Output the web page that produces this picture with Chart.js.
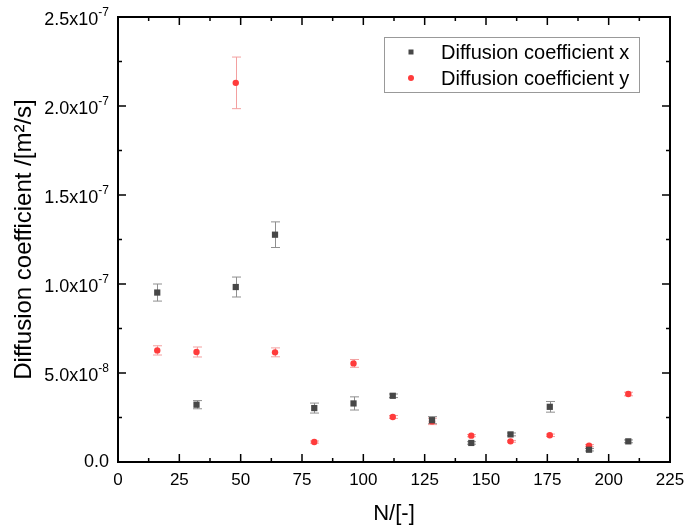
<!DOCTYPE html>
<html>
<head>
<meta charset="utf-8">
<script src="https://cdn.jsdelivr.net/npm/chart.js@4"></script>
<style>
  html, body { margin: 0; padding: 0; background: #fff; }
  #wrap { width: 685px; height: 528px; }
</style>
</head>
<body>
<div id="wrap"><canvas id="chart"></canvas></div>
<script>
// Numero de particulas N
const nValues = [16, 32, 48, 64, 80, 96, 112, 128, 144, 160, 176, 192, 208];

// Coeficiente de difusion en x (m^2/s) y su error
const diffX = [9.52e-8, 3.22e-8, 9.83e-8, 12.77e-8, 3.03e-8, 3.29e-8, 3.72e-8, 2.35e-8, 1.07e-8, 1.55e-8, 3.10e-8, 0.69e-8, 1.16e-8];
const diffXErr = [0.48e-8, 0.23e-8, 0.56e-8, 0.72e-8, 0.28e-8, 0.37e-8, 0.10e-8, 0.20e-8, 0.07e-8, 0.08e-8, 0.30e-8, 0.07e-8, 0.08e-8];

// Coeficiente de difusion en y (m^2/s) y su error
const diffY = [6.27e-8, 6.18e-8, 21.3e-8, 6.16e-8, 1.12e-8, 5.54e-8, 2.53e-8, 2.28e-8, 1.48e-8, 1.16e-8, 1.50e-8, 0.92e-8, 3.82e-8];
const diffYErr = [0.26e-8, 0.28e-8, 1.45e-8, 0.25e-8, 0.06e-8, 0.22e-8, 0.08e-8, 0.18e-8, 0.06e-8, 0.05e-8, 0.07e-8, 0.06e-8, 0.10e-8];

// Etiquetas del eje Y (mantisa + exponente en superindice)
const yTickMantissa = ['0.0', '5.0x10', '1.0x10', '1.5x10', '2.0x10', '2.5x10'];
const yTickExp = ['', '-8', '-7', '-7', '-7', '-7'];

const FONT = 'Arial, "Liberation Sans", sans-serif';

const toPoints = (xs, ys) => xs.map((x, i) => ({ x: x, y: ys[i] }));

// Barras de error
const errorBars = {
  id: 'errorBars',
  beforeDatasetsDraw(chart) {
    const { ctx, scales: { x, y } } = chart;
    chart.data.datasets.forEach((ds) => {
      ctx.save();
      ctx.strokeStyle = ds.errorColor;
      ctx.lineWidth = 1;
      ds.data.forEach((p, i) => {
        const e = ds.errors[i];
        const px = Math.round(x.getPixelForValue(p.x)) + 0.5;
        const top = y.getPixelForValue(p.y + e);
        const bot = y.getPixelForValue(p.y - e);
        ctx.beginPath();
        ctx.moveTo(px, top); ctx.lineTo(px, bot);
        ctx.moveTo(px - 4.5, top); ctx.lineTo(px + 4.5, top);
        ctx.moveTo(px - 4.5, bot); ctx.lineTo(px + 4.5, bot);
        ctx.stroke();
      });
      ctx.restore();
    });
  }
};

// Marco con ticks hacia adentro, etiquetas Y y leyenda
const frame = {
  id: 'frame',
  afterDraw(chart) {
    const { ctx, chartArea: a, scales: { x, y } } = chart;
    ctx.save();
    ctx.strokeStyle = '#000';
    ctx.lineWidth = 2;
    ctx.strokeRect(a.left, a.top, a.right - a.left, a.bottom - a.top);

    ctx.lineWidth = 1.5;
    ctx.beginPath();
    for (let v = 0; v <= 225; v += 12.5) {
      const px = x.getPixelForValue(v);
      const len = (v % 25 === 0) ? 8 : 4;
      ctx.moveTo(px, a.bottom); ctx.lineTo(px, a.bottom - len);
      ctx.moveTo(px, a.top); ctx.lineTo(px, a.top + len);
    }
    for (let k = 0; k <= 10; k++) {
      const py = y.getPixelForValue(k * 0.25e-7);
      const len = (k % 2 === 0) ? 8 : 4;
      ctx.moveTo(a.left, py); ctx.lineTo(a.left + len, py);
      ctx.moveTo(a.right, py); ctx.lineTo(a.right - len, py);
    }
    ctx.stroke();

    // etiquetas Y con superindice
    ctx.fillStyle = '#000';
    ctx.textBaseline = 'middle';
    ctx.textAlign = 'left';
    yTickMantissa.forEach((m, i) => {
      const py = y.getPixelForValue(i * 0.5e-7);
      const ex = yTickExp[i];
      ctx.font = '18px ' + FONT;
      const wm = ctx.measureText(m).width;
      ctx.font = '12px ' + FONT;
      const we = ex ? ctx.measureText(ex).width : 0;
      const startX = a.left - 9 - wm - we;
      const off = ex ? 3 : 0;
      ctx.font = '18px ' + FONT;
      ctx.fillText(m, startX, py + off);
      if (ex) {
        ctx.font = '12px ' + FONT;
        ctx.fillText(ex, startX + wm, py - 4.5);
      }
    });

    // leyenda
    const lx = a.right - 286, ly = a.top + 20, lw = 255, lh = 55;
    ctx.lineWidth = 1;
    ctx.strokeStyle = '#999';
    ctx.strokeRect(lx + 0.5, ly + 0.5, lw, lh);
    ctx.font = '20px ' + FONT;
    chart.data.datasets.forEach((ds, i) => {
      const cy = ly + 15 + i * 26;
      const mx = lx + 27;
      ctx.fillStyle = ds.backgroundColor;
      if (ds.pointStyle === 'rect') {
        ctx.fillRect(mx - 2.5, cy - 2.5, 5, 5);
      } else {
        ctx.beginPath();
        ctx.arc(mx, cy, 3, 0, Math.PI * 2);
        ctx.fill();
      }
      ctx.fillStyle = '#000';
      ctx.fillText(ds.label, lx + 57, cy + 1);
    });
    ctx.restore();
  }
};

new Chart(document.getElementById('chart'), {
  type: 'scatter',
  data: {
    datasets: [
      {
        label: 'Diffusion coefficient x',
        data: toPoints(nValues, diffX),
        errors: diffXErr,
        errorColor: '#8f8f8f',
        pointStyle: 'rect',
        pointRadius: 4.4,
        backgroundColor: '#474747',
        borderWidth: 0
      },
      {
        label: 'Diffusion coefficient y',
        data: toPoints(nValues, diffY),
        errors: diffYErr,
        errorColor: '#f3a0a0',
        pointStyle: 'circle',
        pointRadius: 3.2,
        backgroundColor: '#ff3b3b',
        borderWidth: 0
      }
    ]
  },
  options: {
    responsive: true,
    maintainAspectRatio: false,
    animation: false,
    layout: { padding: { top: 17, right: 15, left: 0, bottom: 0 } },
    plugins: {
      legend: { display: false },
      tooltip: { enabled: false }
    },
    scales: {
      x: {
        type: 'linear',
        min: 0,
        max: 225,
        grid: { display: false },
        border: { display: false },
        ticks: {
          stepSize: 25,
          padding: 0,
          color: '#000',
          font: { family: FONT, size: 17 }
        },
        title: {
          display: true,
          text: 'N/[-]',
          color: '#000',
          font: { family: FONT, size: 22 },
          padding: { top: 0, bottom: 1 }
        },
        afterFit(scale) {
          scale.height = 66;
          scale.paddingLeft = 0;
          scale.paddingRight = 0;
        }
      },
      y: {
        min: 0,
        max: 2.5e-7,
        grid: { display: false },
        border: { display: false },
        ticks: { display: false, stepSize: 0.5e-7 },
        title: {
          display: true,
          text: 'Diffusion coefficient /[m²/s]',
          color: '#000',
          font: { family: FONT, size: 24 },
          padding: { top: 10, bottom: 0 }
        },
        afterFit(scale) {
          scale.width = 118;
          scale.paddingTop = 0;
          scale.paddingBottom = 0;
        }
      }
    }
  },
  plugins: [errorBars, frame]
});
</script>
</body>
</html>
